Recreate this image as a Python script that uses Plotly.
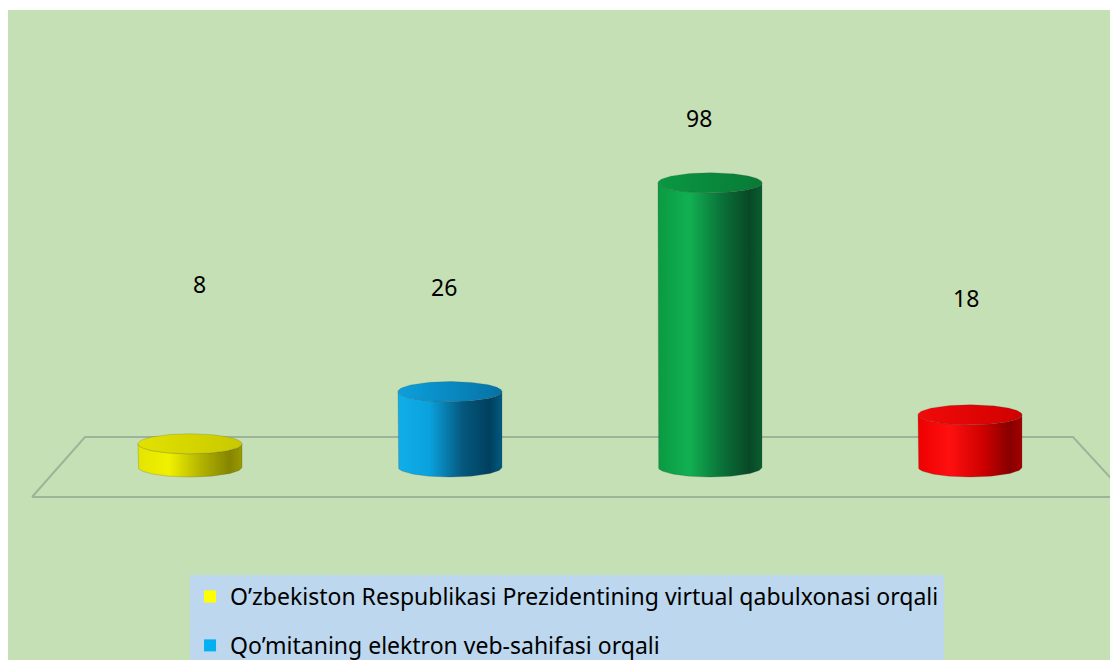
import numpy as np
import plotly.graph_objects as go

# ---- data ----
categories = [
    "O’zbekiston Respublikasi Prezidentining virtual qabulxonasi orqali",
    "Qo’mitaning elektron veb-sahifasi orqali",
    "",
    "",
]
values = [8, 26, 98, 18]
value_labels = ["8", "26", "98", "18"]

# ---- style ----
BG = "#c5e0b4"
body_scales = [
    [[0, "#e4e400"], [0.3, "#f0f000"], [0.6, "#b4b400"], [0.88, "#858500"], [1, "#9a9a00"]],
    [[0, "#10aee8"], [0.3, "#0aa2de"], [0.62, "#05587e"], [0.88, "#00405e"], [1, "#005a80"]],
    [[0, "#0a9a42"], [0.3, "#12b052"], [0.62, "#0a7038"], [0.88, "#084826"], [1, "#0a5e30"]],
    [[0, "#ee0000"], [0.3, "#ff1010"], [0.62, "#d00000"], [0.88, "#880000"], [1, "#a20000"]],
]
top_scales = [
    [[0, "#e2e200"], [1, "#c8c800"]],
    [[0, "#0ca0dc"], [1, "#0672a6"]],
    [[0, "#0a9842"], [1, "#087a36"]],
    [[0, "#f20a0a"], [1, "#d00000"]],
]
legend_colors = ["#ffff00", "#00b0f0", "#00b050", "#ff0000"]

W = 0.2      # half width of cylinder (x units)
B = 3.45     # half height of ellipse (y units)

fig = go.Figure()

# floor parallelogram
fig.add_trace(go.Scatter(
    x=[-0.6077, -0.4038, 3.396, 3.608, -0.6077],
    y=[-10.34, 10.34, 10.34, -10.34, -10.34],
    mode="lines", line=dict(color="#9fb398", width=2),
    hoverinfo="skip", showlegend=False))

t_bottom = np.linspace(np.pi, 2 * np.pi, 60)
t_top = np.linspace(2 * np.pi, np.pi, 60)
t_full = np.linspace(0, 2 * np.pi, 120)

for i, v in enumerate(values):
    c = i
    bx = np.concatenate([[c - W, c - W], c + W * np.cos(t_bottom), [c + W, c + W], c + W * np.cos(t_top)])
    by = np.concatenate([[v, 0], B * np.sin(t_bottom), [0, v], v + B * np.sin(t_top)])
    fig.add_trace(go.Scatter(
        x=bx, y=by, fill="toself", mode="lines",
        line=dict(width=0.6, color="rgba(60,60,60,0.35)"),
        fillgradient=dict(type="horizontal", colorscale=body_scales[i]),
        hoverinfo="skip", showlegend=False))
    fig.add_trace(go.Scatter(
        x=c + W * np.cos(t_full), y=v + B * np.sin(t_full), fill="toself", mode="lines",
        line=dict(width=0.6, color="rgba(60,60,60,0.3)"),
        fillgradient=dict(type="horizontal", colorscale=top_scales[i]),
        hoverinfo="skip", showlegend=False))

# legend entries
for i, name in enumerate(categories):
    if not name:
        continue
    fig.add_trace(go.Scatter(
        x=[None], y=[None], mode="markers", name=name, legendgroup=f"g{i}",
        marker=dict(symbol="square", size=12, color=legend_colors[i])))

# data labels
label_pos = [(0.035, 63.1), (0.977, 62.1), (1.958, 120.3), (2.985, 58.3)]
for (lx, ly), txt in zip(label_pos, value_labels):
    fig.add_annotation(x=lx, y=ly, text=txt, showarrow=False,
                       font=dict(family="Noto Sans", size=23, color="black"))

fig.update_layout(
    width=1110, height=700,
    margin=dict(l=0, r=0, t=2, b=0),
    paper_bgcolor="white", plot_bgcolor=BG,
    xaxis=dict(range=[-0.7, 3.5692], visible=False, fixedrange=True),
    yaxis=dict(range=[-83.1, 157.59], visible=False, fixedrange=True),
    showlegend=True,
    legend=dict(
        x=0.164, y=0.1905, xanchor="left", yanchor="top",
        bgcolor="#bdd7ee", traceorder="grouped", tracegroupgap=16,
        font=dict(family="Noto Sans", size=23, color="black"),
        itemsizing="constant",
    ),
)

fig.write_html("out.html")
